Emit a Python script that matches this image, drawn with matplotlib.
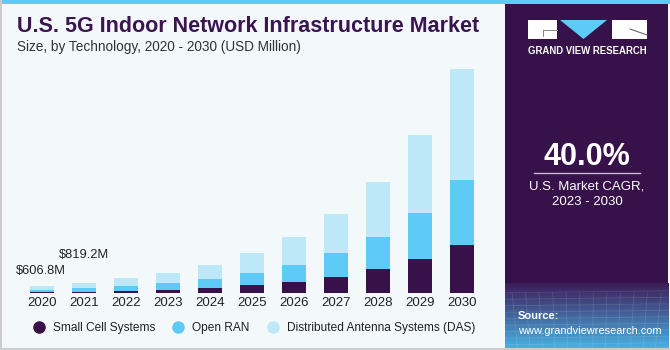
import matplotlib.pyplot as plt
import matplotlib.patches as mpatches
import numpy as np

# Data (USD Million)
years = ["2020", "2021", "2022", "2023", "2024", "2025", "2026", "2027", "2028", "2029", "2030"]
small_cell = [115, 107, 189, 271, 435, 656, 877, 1337, 1968, 2813, 3961]
open_ran = [145, 328, 410, 525, 738, 984, 1443, 1968, 2649, 3723, 5305]
das = [347, 384, 607, 845, 1148, 1665, 2296, 3198, 4510, 6421, 9077]
series_names = ["Small Cell Systems", "Open RAN", "Distributed Antenna Systems (DAS)"]
colors = ["#37114a", "#5dcbf5", "#bde8f8"]
labels_first = ["$606.8M", "$819.2M"]

W, H = 670, 350
bg = "#f3f8fb"
purple = "#37114a"

plt.rcParams['font.family'] = ['Liberation Sans', 'DejaVu Sans']

fig = plt.figure(figsize=(W / 100, H / 100), dpi=100)
fig.patch.set_facecolor(bg)

def fx(px):
    return px / W

def fy(py):
    return 1 - py / H

# bar axes
x0, x1 = 8.4, 495.6
y_base, y_top = 293, 60
ax = fig.add_axes([fx(x0), fy(y_base), fx(x1 - x0), (y_base - y_top) / H])
ax.set_facecolor("none")
x = np.arange(len(years))
bottom = np.zeros(len(years))
for vals, c in zip([small_cell, open_ran, das], colors):
    ax.bar(x, vals, width=0.57, bottom=bottom, color=c, linewidth=0)
    bottom += np.array(vals)
ax.set_xlim(-0.8, 10.8)
ax.set_ylim(0, 233 * 82)
for s in ax.spines.values():
    s.set_visible(False)
ax.set_yticks([])
ax.set_xticks(x)
ax.set_xticklabels(years, fontsize=9.5, color="#222222")
ax.tick_params(axis="x", length=0, pad=3)

# value labels for first two years
ax.annotate(labels_first[0], (0, bottom[0]), xytext=(-18.5, 6.5), textcoords="offset points",
            fontsize=9.3, color="#222222", ha="left", va="bottom")
ax.annotate(labels_first[1], (1, bottom[1]), xytext=(-18, 15.5), textcoords="offset points",
            fontsize=9.3, color="#222222", ha="left", va="bottom")

# titles
fig.text(fx(17), fy(26), "U.S. 5G Indoor Network Infrastructure Market", fontsize=15.5,
         fontweight="bold", color="#3a1550", va="center", ha="left")
fig.text(fx(17), fy(47), "Size, by Technology, 2020 - 2030 (USD Million)", fontsize=9.8,
         color="#333333", va="center", ha="left")

# legend
handles = [plt.Line2D([], [], marker="o", linestyle="", markersize=8, color=c) for c in colors]
fig.legend(handles, series_names, loc="center", bbox_to_anchor=(fx(251), fy(328)), ncol=3,
           frameon=False, fontsize=8.6, handletextpad=0.15, columnspacing=0.95,
           labelcolor="#222222")

# top stripe and borders
fig.add_artist(mpatches.Rectangle((0, fy(4)), 1, fy(0) - fy(4), transform=fig.transFigure,
                                  color="#5dcbf5", lw=0))
fig.add_artist(mpatches.Rectangle((0, 0), fx(2), 1, transform=fig.transFigure,
                                  color="#cccccc", lw=0))
fig.add_artist(mpatches.Rectangle((0, 0), 1, fy(348), transform=fig.transFigure,
                                  color="#cccccc", lw=0))

# right panel
px0, px1 = 505, 668
fig.add_artist(mpatches.Rectangle((fx(px0), fy(348)), fx(px1 - px0), fy(4) - fy(348),
                                  transform=fig.transFigure, color=purple, lw=0, zorder=0.5))
# gradient at bottom of panel
gax = fig.add_axes([fx(px0), fy(348), fx(px1 - px0), (348 - 283) / H])
gax.set_zorder(1.5)
grad = np.linspace(0, 1, 100).reshape(-1, 1)
c_top = np.array([0x3c, 0x1c, 0x58]) / 255
c_bot = np.array([0x48, 0xb0, 0xe2]) / 255
img = c_top[None, None, :] * (1 - grad[:, :, None]) + c_bot[None, None, :] * grad[:, :, None]
gax.imshow(img, aspect="auto", extent=[0, 1, 0, 1])
for k in np.linspace(0, 1, 14):
    gax.plot([k, k + 0.08 * (k - 0.5)], [0, 0.85], color="white", alpha=0.12, lw=0.6)
for k in np.linspace(0.05, 0.85, 9):
    gax.plot([0, 1], [k, k + 0.03], color="white", alpha=0.12, lw=0.6)
gax.set_xlim(0, 1)
gax.set_ylim(0, 1)
gax.axis("off")

# logo
fig.add_artist(mpatches.Rectangle((fx(528), fy(39)), fx(29), fy(20) - fy(39),
                                  transform=fig.transFigure, color="white", lw=0))
fig.add_artist(mpatches.Rectangle((fx(612), fy(39)), fx(35), fy(20) - fy(39),
                                  transform=fig.transFigure, color="white", lw=0))
fig.add_artist(mpatches.Polygon([(fx(560), fy(20)), (fx(607), fy(20)), (fx(583.5), fy(39))],
                                transform=fig.transFigure, color="#5dcbf5", lw=0))
fig.add_artist(plt.Line2D([fx(543), fx(557)], [fy(30), fy(30)], transform=fig.transFigure,
                          color="#888888", lw=0.7))
fig.add_artist(plt.Line2D([fx(543), fx(543)], [fy(30), fy(36)], transform=fig.transFigure,
                          color="#888888", lw=0.7))
fig.add_artist(plt.Line2D([fx(630), fx(647)], [fy(29), fy(35)], transform=fig.transFigure,
                          color="#555555", lw=0.7))
fig.text(fx(587), fy(51), "GRAND VIEW RESEARCH", fontsize=6.9, fontweight="bold",
         color="white", ha="center", va="center")

# CAGR
fig.text(fx(587), fy(157), "40.0%", fontsize=22, fontweight="bold", color="white",
         ha="center", va="center")
fig.add_artist(plt.Line2D([fx(534), fx(640)], [fy(173), fy(173)], transform=fig.transFigure,
                          color="#c8b8d8", lw=1))
fig.text(fx(587), fy(186), "U.S. Market CAGR,", fontsize=9.5, color="white",
         ha="center", va="center")
fig.text(fx(587), fy(202), "2023 - 2030", fontsize=9.5, color="white",
         ha="center", va="center")

fig.text(fx(518), fy(316), "Source:", fontsize=8, fontweight="bold", color="white",
         ha="left", va="center", zorder=3)
fig.text(fx(518), fy(331), "www.grandviewresearch.com", fontsize=7.9, color="white",
         ha="left", va="center", zorder=3)

fig.savefig("out.png", dpi=100, facecolor=bg)
